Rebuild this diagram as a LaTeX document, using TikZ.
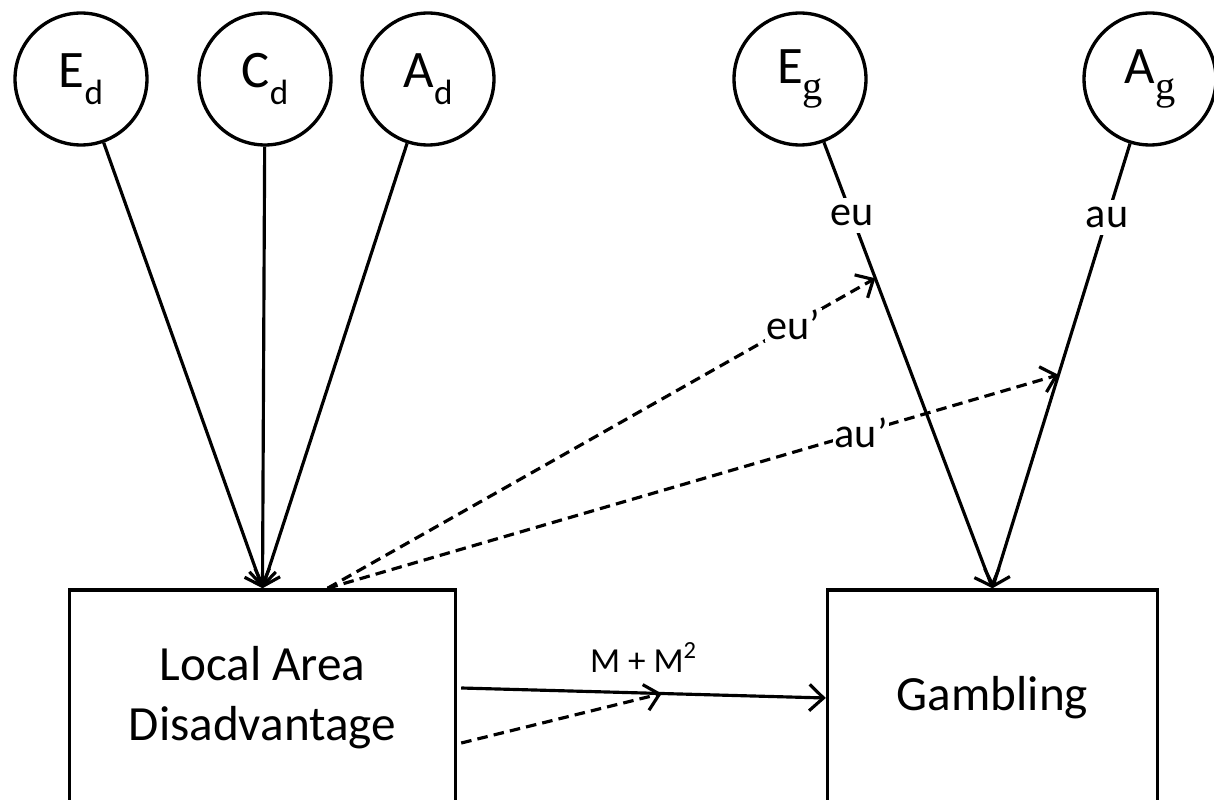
\documentclass[tikz,border=0pt]{standalone}
\usepackage{fontspec}
\setmainfont{Carlito}
\newfontfamily\serifg{Liberation Serif}
\usetikzlibrary{arrows.meta, calc}
\newcommand\lowsub[1]{\raisebox{-0.32em}{\fontsize{20}{24}\selectfont #1}}

\begin{document}
\begin{tikzpicture}[
  x=0.02cm, y=-0.02cm,
  latent/.style={
    circle, draw, line width=1.9pt,
    minimum size=2.64cm, inner sep=0pt,
    font=\fontsize{30}{36}\selectfont
  },
  observed/.style={
    rectangle, draw, line width=2pt,
    minimum width=#1, minimum height=4.32cm,
    align=center, font=\fontsize{28}{34}\selectfont
  },
  arr/.style={line width=1.8pt, -{Straight Barb[length=8pt,width=15pt,line width=1.8pt]}},
  darr/.style={arr, dash pattern=on 6pt off 3.5pt},
  lbl/.style={fill=white, inner sep=4pt, font=\fontsize{24}{28}\selectfont}
]
  \useasboundingbox (0,0) rectangle (1214,800);

  \node[latent] (ed) at (81,79) {E\lowsub{d}};
  \node[latent] (cd) at (265,79) {C\lowsub{d}};
  \node[latent] (ad) at (428,79) {A\lowsub{d}};
  \node[latent] (eg) at (800,79) {E\lowsub{\serifg\fontsize{23}{24}\selectfont g}};
  \node[latent] (ag) at (1150,79) {A\lowsub{\serifg\fontsize{23}{24}\selectfont g}};

  \node[observed=7.72cm] (lad) at (262.5,698) {Local Area\\Disadvantage};
  \node[observed=6.6cm] (gam) at (992.5,698) {Gambling};

  \coordinate (ladtop) at ($(lad.north west)!0.667!(lad.north east)$);
  \coordinate (ladhi) at ($(lad.east)+(4,-10)$);
  \coordinate (ladlo) at ($(lad.east)+(4,45)$);

  \draw[arr] (ed) -- (lad.north);
  \draw[arr] (cd) -- (lad.north);
  \draw[arr] (ad) -- (lad.north);

  \draw[arr] (eg) -- node[lbl, pos=.165] {eu} coordinate[pos=.305] (eutgt) (gam.north);
  \draw[arr] (ag) -- node[lbl, pos=.167] {au} coordinate[pos=.52] (autgt) (gam.north);

  \draw[arr] (ladhi) -- node[above=11pt, inner sep=0pt, font=\fontsize{20}{24}\selectfont] {M + M\textsuperscript{2}}
    coordinate[pos=.55] (mtgt) (gam.west);

  \draw[darr] (ladtop) -- node[lbl, pos=.85, inner sep=1pt] {eu'} (eutgt);
  \draw[darr] (ladtop) -- node[lbl, pos=.73, inner sep=1pt] {au'} (autgt);
  \draw[darr] (ladlo) -- (mtgt);
\end{tikzpicture}
\end{document}
